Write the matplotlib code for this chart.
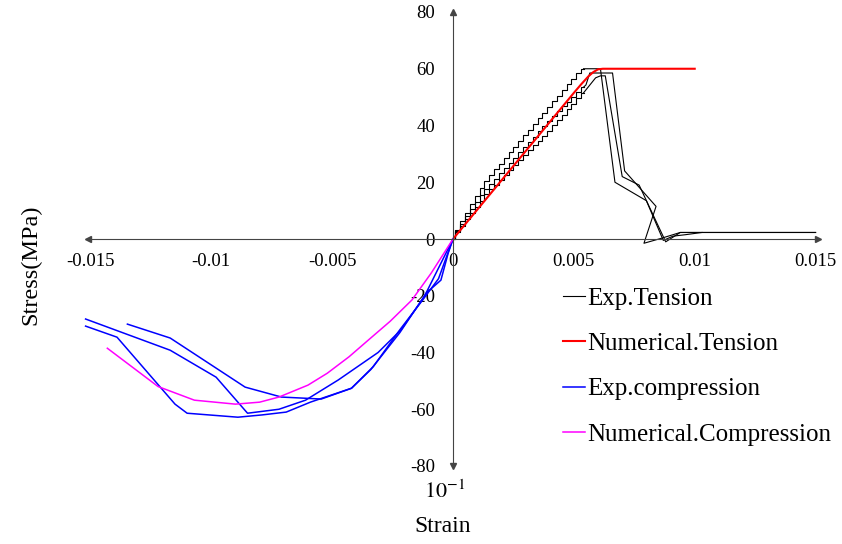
import numpy as np
import matplotlib
matplotlib.use('Agg')
import matplotlib.pyplot as plt

plt.rcParams['font.family'] = ['Liberation Serif', 'DejaVu Serif']
plt.rcParams['mathtext.fontset'] = 'stix'

# --- experimental tension, rising part (staircase), shared strain grid
rise_strain = [0, 0.0002, 0.0004, 0.0006, 0.0008, 0.001, 0.0012, 0.0014,
               0.0016, 0.0018, 0.002, 0.0022, 0.0024, 0.0026, 0.0028, 0.003,
               0.0032, 0.0034, 0.0036, 0.0038, 0.004, 0.0042, 0.0044, 0.0046,
               0.0048, 0.005, 0.0052, 0.0054]
rise_a = [0, 3.2, 6.3, 9.3, 12.2, 15.0, 17.8, 20.5, 22.5, 24.5, 26.5, 28.5,
          30.5, 32.5, 34.5, 36.5, 38.5, 40.5, 42.5, 44.5, 46.5, 48.5, 50.5,
          52.5, 54.5, 56.5, 58.5, 60]
rise_b = [0, 2.7, 5.4, 8, 10.6, 13.1, 15.6, 17.7, 19.5, 21.3, 23.1, 25, 26.8,
          28.7, 30.5, 32.3, 34.2, 36, 37.9, 39.7, 41.5, 43.3, 45, 46.7, 48.4,
          50.1, 51.8, 53.5]
rise_c = [0, 2.3, 4.6, 6.9, 9.1, 11.3, 13.5, 15.8, 17.5, 19.2, 20.9, 22.6,
          24.3, 26.1, 27.8, 29.5, 31.2, 33, 34.7, 36.4, 38.1, 40, 41.9, 43.8,
          45.7, 47.7, 49.6, 51.5]

# post-peak parts
post_a_x = [0.0054, 0.0061, 0.0067, 0.0080, 0.0087, 0.0091, 0.0096, 0.0103]
post_a_y = [60, 60, 20, 13.5, -0.5, 1.0, 1.5, 2.3]
post_b_x = [0.0054, 0.0055, 0.00566, 0.0066, 0.0071, 0.0084, 0.0079, 0.0086,
            0.0094, 0.0150]
post_b_y = [53.5, 54.3, 58.5, 58.5, 24, 11.5, -1.5, 0.2, 2.3, 2.3]
post_c_x = [0.0054, 0.0059, 0.0061, 0.0063, 0.0070, 0.0077, 0.0088, 0.0094, 0.0150]
post_c_y = [51.5, 56.8, 57.5, 57.5, 22, 19, -1, 2.3, 2.3]

# numerical tension
num_t_x = [0, 0.001, 0.002, 0.003, 0.004, 0.005, 0.0053, 0.0056, 0.0058, 0.006,
           0.0062, 0.01]
num_t_y = [0, 10.3, 20.6, 30.9, 41.2, 51.5, 54.5, 57.3, 58.8, 59.8, 60, 60]

# experimental compression
comp_a_x = [-0.0152, -0.0117, -0.0098, -0.0085, -0.0072, -0.0061, -0.00475,
            -0.0031, -0.00215, -0.0012, 0]
comp_a_y = [-28.2, -39.2, -48.7, -61.4, -60, -56.8, -49.7, -40, -32, -20.5, 0]
comp_b_x = [-0.0152, -0.0139, -0.0115, -0.0110, -0.0089, -0.0079, -0.0069,
            -0.0059, -0.0042, -0.0034, -0.0022, -0.0011, -0.0005, -0.0002, 0]
comp_b_y = [-30.7, -34.6, -58.2, -61.4, -62.8, -62, -61, -57.5, -52.6, -46,
            -33, -19, -14.5, -5, 0]
comp_c_x = [-0.01347, -0.0117, -0.0098, -0.0086, -0.0071, -0.00545, -0.0042,
            -0.0033, -0.0022, -0.0013, -0.0006, 0]
comp_c_y = [-30, -34.9, -45.5, -52.2, -55.7, -56.4, -52.6, -45, -32, -22, -14, 0]

# numerical compression
num_c_x = [-0.0143, -0.0122, -0.0107, -0.009, -0.008, -0.0072, -0.006, -0.0052,
           -0.0043, -0.0035, -0.0026, -0.0017, -0.0009, 0]
num_c_y = [-38.5, -52, -56.8, -58.2, -57.5, -55.7, -51.5, -47.3, -41.5, -35.6,
           -29, -21.5, -12, 0]

fig = plt.figure(figsize=(8.42, 5.44), dpi=100)
ax = fig.add_axes([88/842, 1-466/544, 730/842, 454/544])

for ys in (rise_a, rise_b, rise_c):
    ax.plot(rise_strain, ys, color='black', lw=0.8, drawstyle='steps-mid', clip_on=False)
h1, = ax.plot(post_a_x, post_a_y, color='black', lw=0.8, clip_on=False)
ax.plot(post_b_x, post_b_y, color='black', lw=0.8, clip_on=False)
ax.plot(post_c_x, post_c_y, color='black', lw=0.8, clip_on=False)

h2, = ax.plot(num_t_x, num_t_y, color='#ff0000', lw=1.5, clip_on=False)

h3, = ax.plot(comp_a_x, comp_a_y, color='#0000ff', lw=1.1, clip_on=False)
ax.plot(comp_b_x, comp_b_y, color='#0000ff', lw=1.1, clip_on=False)
ax.plot(comp_c_x, comp_c_y, color='#0000ff', lw=1.1, clip_on=False)

h4, = ax.plot(num_c_x, num_c_y, color='#ff00ff', lw=1.1, clip_on=False)

ax.set_xlim(-0.0151, 0.0151)
ax.set_ylim(-80, 80)

# axes through origin
for side in ('top', 'right'):
    ax.spines[side].set_visible(False)
for side in ('left', 'bottom'):
    ax.spines[side].set_position('zero')
    ax.spines[side].set_color('#444444')
    ax.spines[side].set_linewidth(0.8)

xticks = [-0.015, -0.01, -0.005, 0, 0.005, 0.01, 0.015]
xlabels = ['-0.015', '-0.01', '-0.005', '0', '0.005', '0.01', '0.015']
yticks = [-80, -60, -40, -20, 0, 20, 40, 60, 80]
ax.set_xticks(xticks)
ax.set_xticklabels(xlabels)
ax.set_yticks(yticks)
ax.set_yticklabels([str(v) for v in yticks])
ax.tick_params(axis='x', length=0, pad=10, labelsize=13.5)
ax.tick_params(axis='y', length=0, pad=13, labelsize=13.5)

# arrow heads
kw = dict(color='#444444', ms=4, clip_on=False)
ax.plot(1, 0, '>', transform=ax.get_yaxis_transform(), **kw)
ax.plot(0, 0, '<', transform=ax.get_yaxis_transform(), **kw)
ax.plot(0, 1, '^', transform=ax.get_xaxis_transform(), **kw)
ax.plot(0, 0, 'v', transform=ax.get_xaxis_transform(), **kw)

fig.text(31/842, 1-265/544, 'Stress(MPa)', rotation=90, fontsize=17.5,
         ha='center', va='center')
fig.text(443/842, 1-527/544, 'Strain', fontsize=17, ha='center', va='center')
fig.text(445/842, 1-492/544, r'$10^{-1}$', fontsize=16, ha='center', va='center')

ax.legend([h1, h2, h3, h4],
          ['Exp.Tension', 'Numerical.Tension', 'Exp.compression', 'Numerical.Compression'],
          loc='upper left', bbox_to_anchor=(563/842, 1-287/544),
          bbox_transform=fig.transFigure, frameon=False, fontsize=18,
          handlelength=0.88, handletextpad=0.08, labelspacing=0.92,
          borderpad=0, borderaxespad=0)

fig.savefig('out.png', dpi=100)
